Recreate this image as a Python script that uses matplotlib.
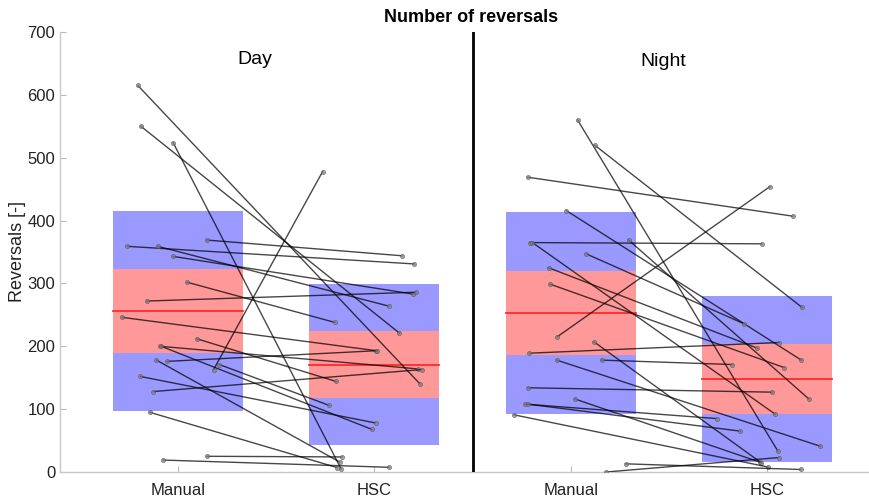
import numpy as np
import matplotlib
matplotlib.use("Agg")
import matplotlib.pyplot as plt

plt.rcParams['font.family'] = ['Liberation Sans', 'DejaVu Sans']

# ---- data ----
groups = ["Manual", "HSC", "Manual", "HSC"]
panels = ["Day", "Night"]

# Day: paired manual -> HSC counts
day_manual = [615, 550, 524, 369, 359, 359, 343, 302, 272, 246, 212,
              200, 200, 178, 176, 171, 163, 152, 128, 95, 25, 19]
day_hsc = [140, 221, 5, 344, 331, 264, 283, 238, 286, 193, 144,
           164, 68, 16, 193, 106, 478, 78, 163, 7, 24, 7.5]
day_manual_jit = [-0.204, -0.188, -0.024, 0.148, -0.257, -0.102, -0.024, 0.046, -0.158, -0.283, 0.096,
                  -0.090, -0.085, -0.109, -0.055, 0.211, 0.182, -0.191, -0.124, -0.143, 0.148, -0.075]
day_hsc_jit = [0.233, 0.128, -0.169, 0.141, 0.204, 0.073, 0.199, -0.201, 0.213, 0.010, -0.194,
               0.223, -0.014, -0.177, 0.015, -0.230, -0.263, 0.007, 0.243, -0.189, -0.165, 0.075]

# Night
night_manual = [560, 520, 469, 416, 365, 365, 369, 347, 325, 299, 215,
                207, 189, 178, 178, 134, 116, 108, 108, 91, 13, 0]
night_hsc = [33, 262, 407, 178, 363, 92, 116, 236, 197, 166, 454,
             16, 206, 41, 171, 127, 15, 85, 65, 8, 4, 23]
night_manual_jit = [0.035, 0.122, -0.219, -0.023, -0.207, -0.195, 0.295, 0.079, -0.113, -0.106, -0.069,
                    0.119, -0.211, -0.071, 0.157, -0.219, 0.023, -0.233, -0.219, -0.289, 0.280, 0.180]
night_hsc_jit = [0.055, 0.177, 0.131, 0.174, -0.027, 0.041, 0.213, -0.119, -0.050, 0.088, 0.014,
                 -0.036, 0.061, 0.271, -0.179, 0.027, -0.031, -0.257, -0.136, 0.003, 0.171, 0.060]

# box stats per group: mean, 95% CI, SD range
box_mean = [256.6, 170.7, 253, 148.4]
box_ci_lo = [189, 117, 186, 93]
box_ci_hi = [323, 224, 319, 203]
box_sd_lo = [97, 43, 93, 16.4]
box_sd_hi = [415.7, 298.6, 413, 280.5]

# ---- plot ----
fig = plt.figure(figsize=(8.7, 4.98), dpi=100)
ax = fig.add_axes([60/870, 26/498, 825/870, 440/498])

pos = [1, 2, 3, 4]
hw = 0.33
for i, p in enumerate(pos):
    ax.fill_between([p-hw, p+hw], box_sd_lo[i], box_sd_hi[i], color='#9999ff', lw=0, zorder=1)
    ax.fill_between([p-hw, p+hw], box_ci_lo[i], box_ci_hi[i], color='#ff9999', lw=0, zorder=2)
    ax.plot([p-hw, p+hw], [box_mean[i]]*2, color='#ff2a2a', lw=1.3, zorder=3)

def pairs(x0, x1, man, hsc, mj, hj):
    for m, h, a, b in zip(man, hsc, mj, hj):
        ax.plot([x0+a, x1+b], [m, h], color='k', lw=1.0, alpha=0.72, zorder=4,
                marker='o', ms=3.0, mfc='#808080', mec='#555555', mew=0.5)

pairs(1, 2, day_manual, day_hsc, day_manual_jit, day_hsc_jit)
pairs(3, 4, night_manual, night_hsc, night_manual_jit, night_hsc_jit)

ax.axvline(2.5, color='k', lw=2, zorder=5)

ax.set_xlim(0.4, 4.6)
ax.set_ylim(0, 700)
ax.set_xticks(pos)
ax.set_xticklabels(groups)
ax.set_yticks(np.arange(0, 701, 100))
ax.tick_params(direction='in', length=4, color='#bbbbbb', labelsize=12, labelcolor='#222222')
ax.tick_params(axis='x', pad=8)
for s in ['top', 'right']:
    ax.spines[s].set_visible(False)
for s in ['left', 'bottom']:
    ax.spines[s].set_color('#c8c8c8')
    ax.spines[s].set_linewidth(1.0)

ax.set_ylabel('Reversals [-]', fontsize=13, color='#222222', labelpad=1)
ax.text(1.39, 657, panels[0], fontsize=14, ha='center', va='center')
ax.text(3.47, 653, panels[1], fontsize=14, ha='center', va='center')
fig.text(471/870, 1 - 18/498, 'Number of reversals', fontsize=13, fontweight='bold',
         ha='center', va='center')

fig.savefig('out.png', dpi=100)
